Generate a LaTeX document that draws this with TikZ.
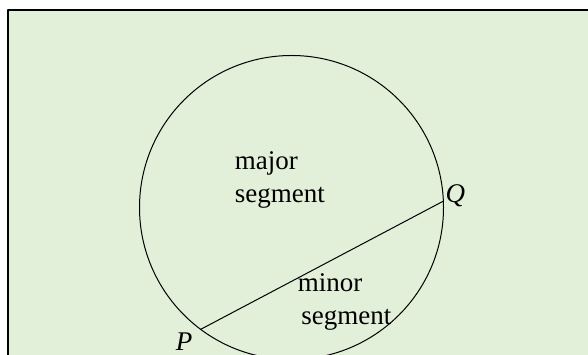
\documentclass[tikz,border=0pt]{standalone}
\usepackage{fontspec}
\setmainfont{Liberation Serif}
\usetikzlibrary{calc,positioning}
\definecolor{segbg}{RGB}{226,239,217}

\begin{document}
\begin{tikzpicture}[x=1pt,y=1pt,line join=round,line cap=round,
    seglabel/.style={inner sep=0pt,align=left,font=\fontsize{27}{33}\selectfont},
    ptlabel/.style={inner sep=0pt,font=\fontsize{27}{33}\selectfont\itshape}]
      \useasboundingbox (0,0) rectangle (588,355);
      \fill[segbg] (8,0) rectangle (588,345);
      \draw[line width=2pt,line cap=butt] (8,0)--(8,345)--(588,345);
      \coordinate (O) at (291.5,147.5);
      \coordinate (P) at ($(O)+(233.3:152)$);
      \coordinate (Q) at ($(O)+(2.4:152)$);
      \draw[line width=1pt] (O) circle (152);
      \draw[line width=1pt] (P)--(Q);
      % base anchor sits on the last line
      \node[seglabel,anchor=base west] (major) at (234.6,152.3) {major\\segment};
      \node[seglabel,anchor=base west] (minor) at (297.6,30) {minor\\\hspace*{3.5pt}segment};
      \node[ptlabel,anchor=base west] (Plabel) at ($(P)+(-25,-21.5)$) {P};
      \node[ptlabel,anchor=base west] (Qlabel) at ($(Q)+(2,-1)$) {Q};
\end{tikzpicture}
\end{document}
